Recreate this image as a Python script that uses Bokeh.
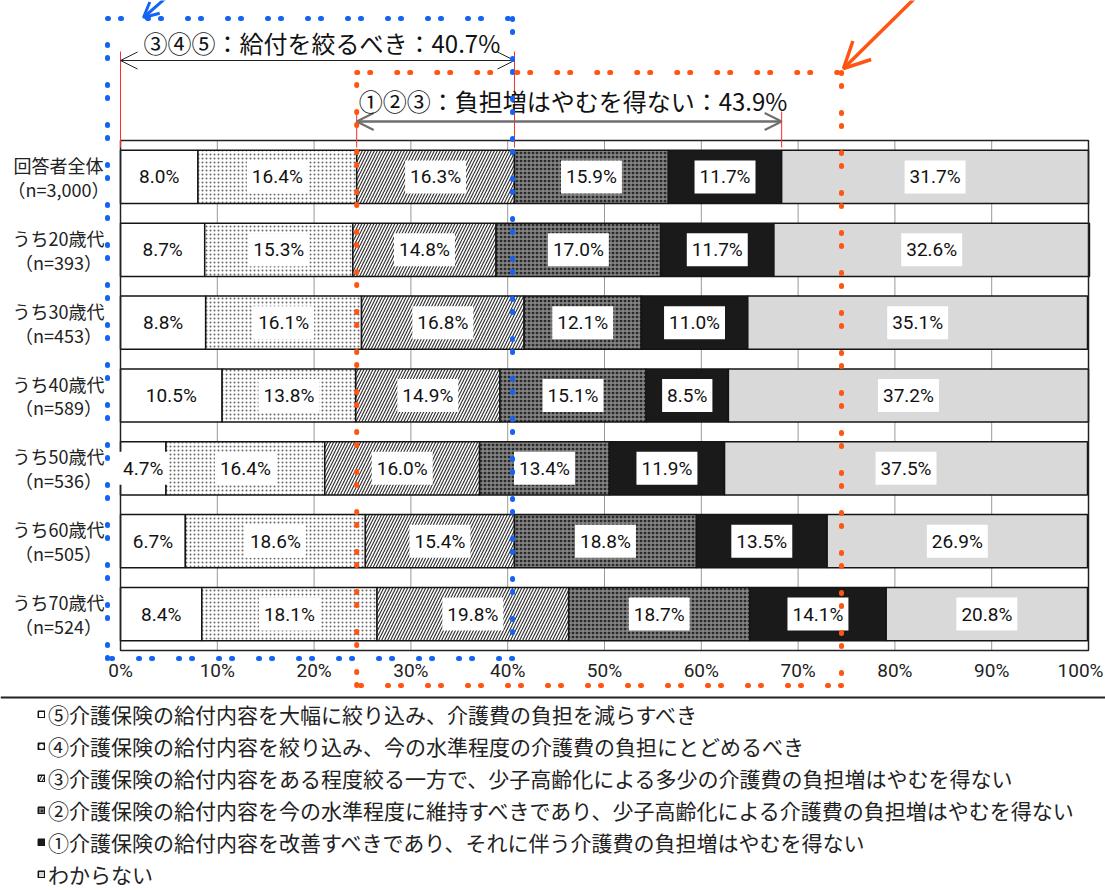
from bokeh.plotting import figure
from bokeh.models import (Range1d, Arrow, OpenHead, Label, Legend, LegendItem, ColumnDataSource)
from bokeh.core.properties import value
from bokeh.embed import file_html
from bokeh.resources import INLINE

# ---------------- data ----------------
categories = ["回答者全体\n（n=3,000）", "うち20歳代\n（n=393）", "うち30歳代\n（n=453）",
              "うち40歳代\n（n=589）", "うち50歳代\n（n=536）", "うち60歳代\n（n=505）",
              "うち70歳代\n（n=524）"]
series_names = [
    "⑤介護保険の給付内容を大幅に絞り込み、介護費の負担を減らすべき",
    "④介護保険の給付内容を絞り込み、今の水準程度の介護費の負担にとどめるべき",
    "③介護保険の給付内容をある程度絞る一方で、少子高齢化による多少の介護費の負担増はやむを得ない",
    "②介護保険の給付内容を今の水準程度に維持すべきであり、少子高齢化による介護費の負担増はやむを得ない",
    "①介護保険の給付内容を改善すべきであり、それに伴う介護費の負担増はやむを得ない",
    "わからない",
]
s5 = [8.0, 8.7, 8.8, 10.5, 4.7, 6.7, 8.4]
s4 = [16.4, 15.3, 16.1, 13.8, 16.4, 18.6, 18.1]
s3 = [16.3, 14.8, 16.8, 14.9, 16.0, 15.4, 19.8]
s2 = [15.9, 17.0, 12.1, 15.1, 13.4, 18.8, 18.7]
s1 = [11.7, 11.7, 11.0, 8.5, 11.9, 13.5, 14.1]
s_dk = [31.7, 32.6, 35.1, 37.2, 37.5, 26.9, 20.8]
series = [s5, s4, s3, s2, s1, s_dk]
x_ticks = [0, 10, 20, 30, 40, 50, 60, 70, 80, 90, 100]

# ---------------- styles ----------------
styles = [
    dict(fill_color="white"),
    dict(fill_color="white", hatch_pattern="dot", hatch_color="#666666", hatch_scale=4, hatch_weight=0.6),
    dict(fill_color="white", hatch_pattern="right_diagonal_line", hatch_color="#333333", hatch_scale=6, hatch_weight=1.2),
    dict(fill_color="#2a2a2a", hatch_pattern="cross", hatch_color="#8c8c8c", hatch_scale=4, hatch_weight=1.3),
    dict(fill_color="#1a1a1a"),
    dict(fill_color="#d9d9d9"),
]
NUMF = "Roboto"
JP = "Noto Sans CJK JP"
BLUE = "#1464f4"
ORANGE = "#ff5512"
RED = "#ff2a2a"

W, H = 1105, 890
FL, FR, FT, FB = 120, 1088, 140, 650          # plot-area box in page pixels
n = len(categories)
ROW = (FB - FT) / n

def X(px):
    return (px - FL) / (FR - FL) * 100.0

def Y(py):
    return (py - FT) / ROW

p = figure(width=W, height=H, x_range=Range1d(X(0), X(W)), y_range=Range1d(Y(H), Y(0)),
           output_backend="svg", toolbar_location=None,
           x_axis_location=None, y_axis_location=None, min_border=0)
p.grid.visible = False
p.outline_line_color = None
p.background_fill_color = "white"
p.border_fill_color = "white"

rows = [i + 0.5 for i in range(n)]

# grid lines (value axis)
p.segment(x0=x_ticks, x1=x_ticks, y0=[0] * len(x_ticks), y1=[n] * len(x_ticks),
          line_color="#999999", line_width=1)

# stacked bars
renderers = []
label_srcs = []
left = [0.0] * n
for vals, st in zip(series, styles):
    right = [l + v for l, v in zip(left, vals)]
    src = ColumnDataSource(dict(row=rows, left=left, right=right,
                                mid=[(l + r) / 2 for l, r in zip(left, right)],
                                lbl=[f"{v:.1f}%" for v in vals]))
    r = p.hbar(y="row", left="left", right="right", height=0.73, source=src,
               line_color="#151515", line_width=1.5, **st)
    renderers.append(r)
    label_srcs.append(src)
    left = right

# plot-area frame
p.quad(left=x_ticks[0], right=x_ticks[-1], top=0, bottom=n, fill_color=None,
       line_color="#222222", line_width=1.5)

# value labels
for src in label_srcs:
    p.text(x="mid", y="row", text="lbl", source=src, text_font=value(NUMF),
           text_font_size="19px", text_color="#111111", text_align="center",
           text_baseline="middle", background_fill_color="white", padding=(5, 5))

# category labels
p.text(x=[X(58)] * n, y=rows, text=categories, text_font=value(JP), text_font_size="18px",
       text_color="#222222", text_align="center", text_baseline="middle", text_line_height=0.92)

# value-axis tick labels (last one kept inside the page)
tick_src = ColumnDataSource(dict(
    x=x_ticks, y=[Y(670)] * len(x_ticks), t=[f"{t}%" for t in x_ticks],
    align=["center"] * (len(x_ticks) - 1) + ["right"],
    xoff=[0] * (len(x_ticks) - 1) + [15]))
p.text(x="x", y="y", text="t", source=tick_src, text_align="align", x_offset="xoff",
       text_font=value(NUMF), text_font_size="19px", text_color="#222222",
       text_baseline="middle")

# ---------------- annotations ----------------
b1 = s5[0] + s4[0] + s3[0]            # ③④⑤
b2_start = s5[0] + s4[0]
b2 = s3[0] + s2[0] + s1[0]            # ①②③
b2_end = b2_start + b2

def seg(x0, y0, x1, y1, **kw):
    p.add_layout(Arrow(x_start=x0, y_start=y0, x_end=x1, y_end=y1, start=None, end=None, **kw))

for xv, top in [(0, 51), (b1, 51), (b2_start, 111), (b2_end, 111)]:
    seg(xv, Y(top), xv, Y(147), line_color=RED, line_width=1)

p.add_layout(Arrow(x_start=0, y_start=Y(60), x_end=b1, y_end=Y(60),
                   start=OpenHead(size=17, line_color="#222222", line_width=1),
                   end=OpenHead(size=17, line_color="#222222", line_width=1),
                   line_color="#222222", line_width=1))
p.add_layout(Arrow(x_start=b2_start, y_start=Y(121), x_end=b2_end, y_end=Y(121),
                   start=OpenHead(size=17, line_color="#6e6e6e", line_width=2),
                   end=OpenHead(size=17, line_color="#6e6e6e", line_width=2),
                   line_color="#6e6e6e", line_width=2.5))

p.add_layout(Label(x=X(143), y=Y(42), text=f"③④⑤：給付を絞るべき：{b1:.1f}%",
                   text_font=JP, text_font_size="24px", text_color="#111111",
                   text_align="left", text_baseline="middle"))
p.add_layout(Label(x=b2_start + 0.2, y=Y(100), text=f"①②③：負担増はやむを得ない：{b2:.1f}%",
                   text_font=JP, text_font_size="24px", text_color="#111111",
                   text_align="left", text_baseline="middle"))

dot = dict(line_dash="1 12 1 26", line_cap="round", line_width=5)
bx0, bx1, by0, by1 = X(107), b1 - 0.2, Y(18), Y(658)
for a in [(bx0, by0, bx1, by0), (bx1, by0, bx1, by1), (bx1, by1, bx0, by1), (bx0, by1, bx0, by0)]:
    seg(*a, line_color=BLUE, **dot)
ox0, ox1, oy0, oy1 = b2_start, X(841), Y(72), Y(685)
for a in [(ox0, oy0, ox1, oy0), (ox1, oy0, ox1, oy1), (ox1, oy1, ox0, oy1), (ox0, oy1, ox0, oy0)]:
    seg(*a, line_color=ORANGE, **dot)

p.add_layout(Arrow(x_start=X(176), y_start=Y(-12), x_end=X(143), y_end=Y(17),
                   end=OpenHead(size=15, line_color=BLUE, line_width=3),
                   line_color=BLUE, line_width=3))
p.add_layout(Arrow(x_start=X(915), y_start=Y(-3), x_end=X(843), y_end=Y(68),
                   end=OpenHead(size=26, line_color=ORANGE, line_width=3.5),
                   line_color=ORANGE, line_width=3.5))

# rule above legend
seg(X(0), Y(697), X(W), Y(697), line_color="#222222", line_width=2)

# legend
legend = Legend(items=[LegendItem(label=nm, renderers=[r]) for nm, r in zip(series_names, renderers)],
                location=(37, 1), orientation="vertical",
                glyph_width=8, glyph_height=8, label_standoff=3, label_height=30, spacing=2,
                padding=0, margin=0, border_line_color=None, background_fill_alpha=0,
                label_text_font=JP, label_text_font_size="21px", label_text_color="#222222")
p.add_layout(legend)

open("out.html", "w").write(file_html(p, INLINE))
